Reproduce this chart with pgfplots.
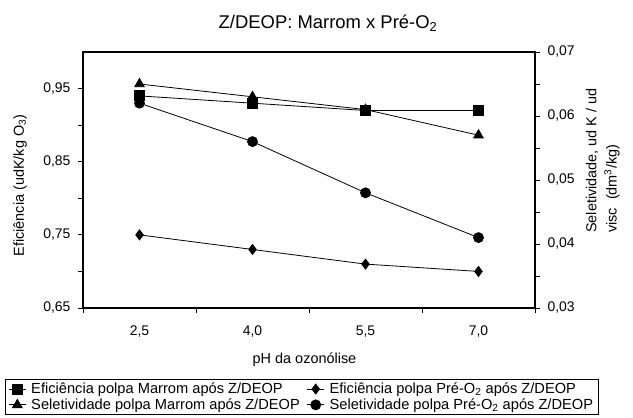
\documentclass[border=0pt]{standalone}
\usepackage{pgfplots}
\pgfplotsset{compat=1.18}
\usepackage{fontspec}
\setmainfont{Liberation Sans}
\newcommand{\lf}{\fontsize{14.7}{16}\selectfont}
\begin{document}
\begin{tikzpicture}
\pgfplotsset{
  every axis/.append style={
    scale only axis, width=452bp, height=256bp,
    xmin=1.75, xmax=7.75,
    axis line style={line width=1.3bp},
    tick style={line width=0.9bp, black},
    tick align=outside,
    major tick length=5bp, minor tick length=5bp,
    scaled y ticks=false,
    /pgf/number format/assume math mode=true,
    /pgf/number format/use comma,
    /pgf/number format/fixed,
    /pgf/number format/fixed zerofill,
    ticklabel style={font=\fontsize{14}{16}\selectfont},
  },
}
\begin{axis}[at={(83bp,110bp)}, anchor=south west,
  ymin=0.65, ymax=1.0,
  ytick={0.65,0.75,0.85,0.95}, minor ytick={0.70,0.80,0.90},
  yticklabel style={/pgf/number format/precision=2, xshift=-4bp},
  xtick={1.75,3.25,4.75,6.25,7.75}, xticklabels={},
  extra x ticks={2.5,4,5.5,7},
  extra x tick style={major tick length=0pt, xticklabel style={/pgf/number format/precision=1, yshift=-14bp}},
  xtick pos=bottom, ytick pos=left,
  legend columns=2,
  legend cell align=left,
  legend style={at={(-0.1726,-0.2773)}, anchor=north west, draw=black, line width=0.9bp,
    font=\lf, inner ysep=3bp, inner xsep=3bp,
    nodes={inner ysep=0.5bp},
    /tikz/every odd column/.append style={column sep=3bp},
    /tikz/every even column/.append style={column sep=5bp},
    row sep=2.5bp},
  every axis plot/.append style={line width=0.8bp, black},
]
\addplot[mark=square*, mark size=5bp, mark options={solid}] coordinates {(2.5,0.94) (4,0.93) (5.5,0.92) (7,0.92)};
\addlegendentry{\lf Eficiência polpa Marrom após Z/DEOP}
\addplot[mark=diamond*, mark size=5bp] coordinates {(2.5,0.75) (4,0.73) (5.5,0.71) (7,0.70)};
\addlegendentry{\lf Eficiência polpa Pré-O\textsubscript{2} após Z/DEOP\hspace{20bp}}
\addlegendimage{line width=0.8bp, black, mark=triangle*, mark size=5.5bp}
\addlegendentry{\lf Seletividade polpa Marrom após Z/DEOP}
\addlegendimage{line width=0.8bp, black, mark=*, mark size=5bp}
\addlegendentry{\lf Seletividade polpa Pré-O\textsubscript{2} após Z/DEOP}
\end{axis}
\begin{axis}[at={(83bp,110bp)}, anchor=south west,
  ymin=0.03, ymax=0.07,
  axis x line=none, axis y line*=right,
  ytick={0.03,0.04,0.05,0.06,0.07}, minor ytick={0.035,0.045,0.055,0.065},
  yticklabel style={/pgf/number format/precision=2, xshift=4bp},
  every axis plot/.append style={line width=0.8bp, black},
]
\addplot[mark=triangle*, mark size=5.5bp] coordinates {(2.5,0.065) (4,0.063) (5.5,0.061) (7,0.057)};
\addplot[mark=*, mark size=5bp] coordinates {(2.5,0.062) (4,0.056) (5.5,0.048) (7,0.041)};
\end{axis}
\node[font=\fontsize{18.5}{20}\selectfont] at (328bp,394.5bp) {Z/DEOP: Marrom x Pré-O\textsubscript{2}};
\node[font=\fontsize{14.5}{16}\selectfont, rotate=90] at (20bp,232.5bp) {Eficiência (udK/kg O\textsubscript{3})};
\node[font=\fontsize{14.5}{16}\selectfont, rotate=90, anchor=west, inner sep=0pt] at (592bp,185bp) {Seletividade, ud K / ud};
\node[font=\fontsize{14.5}{16}\selectfont, rotate=90, anchor=west, inner sep=0pt] at (612bp,185bp) {visc\ \ (dm\textsuperscript{3}/kg)};
\node[font=\fontsize{14.5}{16}\selectfont] at (304.5bp,58bp) {pH da ozonólise};
\pgfresetboundingbox
\useasboundingbox (0bp,0bp) rectangle (633bp,418bp);
\end{tikzpicture}
\end{document}
